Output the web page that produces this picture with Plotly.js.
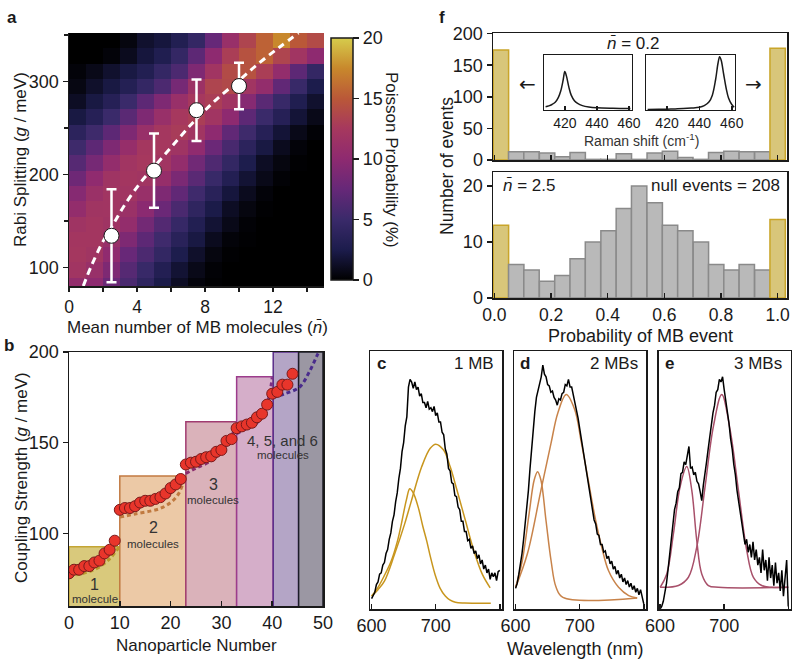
<!DOCTYPE html>
<html>
<head>
<meta charset="utf-8">
<script src="https://cdn.plot.ly/plotly-3.0.1.min.js"></script>
<style>
  html, body { margin: 0; padding: 0; background: #fff; }
  #plot { width: 800px; height: 666px; }
</style>
</head>
<body>
<div id="plot"></div>
<script>
// ---------- panel a : Poisson probability map ----------
var nbarBins = [0.5, 1.5, 2.5, 3.5, 4.5, 5.5, 6.5, 7.5, 8.5, 9.5, 10.5, 11.5, 12.5, 13.5, 14.5];
// row centres, top row first
var rabiBins = [343.8, 327.4, 311.0, 294.5, 278.1, 261.7, 245.2, 228.8, 212.4, 195.9, 179.5, 163.1, 146.6, 130.2, 113.8, 97.4, 80.9];
var poisson = [
  [0, 0, 0, 0.5, 1.5, 2, 3, 4.5, 7.5, 11, 13.5, 15.5, 17.5, 15, 14],
  [0, 0, 0.3, 1, 2, 2.8, 4.5, 7, 10, 13, 14.5, 15.5, 13.5, 12, 10],
  [0.3, 0.8, 1.5, 2.2, 3, 4.5, 6, 9, 12, 14, 14.5, 13, 10.5, 7, 4.5],
  [0.6, 1.4, 2.2, 3.2, 4.5, 6, 8.5, 11.5, 13.5, 13.8, 12, 10.5, 7.2, 4.8, 2.5],
  [1.2, 2.2, 3.3, 5, 7, 9, 11, 12.5, 13, 12, 9.5, 6.8, 4.8, 2.8, 1.5],
  [2.2, 3.3, 5, 6.8, 9, 11, 12.5, 13, 12, 10, 7, 5, 3.3, 1.8, 0.8],
  [3.8, 5.2, 7, 9, 11, 12.3, 12.8, 12, 10, 7.2, 5.2, 3.3, 1.8, 0.8, 0.2],
  [5.2, 7, 9, 10.8, 12.3, 12.5, 11.8, 10.2, 7.8, 5.8, 3.8, 2.2, 1, 0.3, 0],
  [6.6, 8.5, 10.5, 12, 12.5, 12, 10.5, 8.2, 6.2, 4.4, 2.6, 1.2, 0.5, 0.1, 0],
  [8, 10.2, 11.8, 12.2, 12, 10.8, 8.8, 6.8, 4.8, 3.1, 1.7, 0.8, 0.2, 0, 0],
  [9.5, 11.2, 12, 12, 11, 9, 7.2, 5.3, 3.6, 2, 1, 0.3, 0, 0, 0],
  [10.5, 11.9, 12, 11.2, 9.8, 7.8, 5.9, 4.1, 2.4, 1.2, 0.5, 0.1, 0, 0, 0],
  [11.8, 12.2, 11.8, 10.5, 8.3, 6.4, 4.7, 3, 1.7, 0.8, 0.2, 0, 0, 0, 0],
  [12.2, 12.2, 11, 9, 7, 5.3, 3.6, 2.2, 1, 0.3, 0.1, 0, 0, 0, 0],
  [12.3, 11.9, 10.2, 7.6, 6, 4.4, 2.6, 1.4, 0.5, 0.1, 0, 0, 0, 0, 0],
  [12, 11, 9, 6.6, 4.8, 3.1, 1.7, 0.8, 0.2, 0, 0, 0, 0, 0, 0],
  [10.5, 10, 7.8, 5.9, 4.1, 2.4, 1.2, 0.4, 0.1, 0, 0, 0, 0, 0, 0]
];
var nbarMeasured = [2.5, 5, 7.5, 10];
var rabiMeasured = [134, 204, 269, 295];
var rabiErr = [50, 40, 33, 25];
var fitN = [0.84, 1.3, 2.0, 2.5, 3.2, 4.2, 5.0, 6.1, 7.2, 7.9, 8.7, 10.0, 11.2, 12.4, 13.5];
var fitG = [80, 101, 128, 143, 165, 191, 208, 231, 254, 267, 281, 301, 320, 337, 352];

// ---------- panel f : histograms + Raman insets ----------
var probBins = [0.023, 0.077, 0.131, 0.186, 0.240, 0.294, 0.348, 0.403, 0.457, 0.511, 0.566, 0.620, 0.674, 0.729, 0.783, 0.837, 0.891, 0.946, 1.000];
var countsLow = [174, 13, 13, 11, 5, 12, 1, 1, 10, 1, 11, 14, 4, 1, 12, 14, 13, 13, 177];
var countsHigh = [13, 6, 5, 3, 4, 7, 10, 12, 16, 20, 17, 13, 12, 10, 6, 5, 6, 5, 14];
var ramanLeftX = [408, 410, 412, 414, 416, 417.5, 419, 420, 421, 422.5, 424, 426, 428, 431, 435, 440, 450, 461];
var ramanLeftY = [0.06, 0.075, 0.1, 0.14, 0.23, 0.35, 0.55, 0.7, 0.62, 0.42, 0.27, 0.17, 0.12, 0.08, 0.055, 0.04, 0.03, 0.025];
var ramanRightX = [408, 415, 420, 425, 430, 435, 440, 443, 446, 448, 450, 451.5, 452.5, 453.5, 455, 456.5, 458, 460, 461.5];
var ramanRightY = [0.01, 0.012, 0.015, 0.02, 0.025, 0.035, 0.05, 0.08, 0.15, 0.27, 0.55, 0.85, 0.97, 0.9, 0.65, 0.4, 0.22, 0.1, 0.05];

// ---------- panel b : coupling strength ----------
var particleNo = [];
for (var i = 0; i < 45; i++) particleNo.push(i);
var coupling = [78, 80, 80, 82, 82, 84, 85, 89, 91, 96,
  113, 114, 114, 115, 117, 118, 118, 119, 120, 122, 125, 127, 130,
  138, 139, 139.5, 141, 142, 142.5, 145, 146, 151, 152,
  158, 159, 160, 161, 164, 166, 171,
  177, 178, 182, 182, 188];
var regionStart = [0, 10, 23, 33, 40.2, 45.2];
var regionEnd = [10, 23, 33, 40.2, 45.2, 50];
var regionTop = [92.6, 131.6, 161.5, 186.4, 200, 200];
var regionFill = ["#d9c97c", "#ecc9a6", "#dab2ba", "#d5aec9", "#b4a5c6", "#9b97a3"];
var regionEdge = ["#c4a534", "#c27a42", "#a03c70", "#9c3c8c", "#5a2e8a", "#1c1c28"];
var fit1X = [0, 2, 4, 6, 8, 10], fit1Y = [76.5, 77.5, 79, 81.5, 86, 93];
var fit2X = [10, 13, 16, 18, 20, 21.5, 22.5, 23], fit2Y = [109, 110.7, 112.3, 113.8, 117, 121.5, 128, 132];
var fit3X = [23, 25, 28, 30, 31.5, 33], fit3Y = [133, 136, 140, 145, 151, 160];
var fit4X = [33, 35, 37, 38.5, 39.5, 40], fit4Y = [155, 158, 161, 167, 177, 186];
var fit5X = [40.2, 42.5, 45.4, 47.3, 49, 49.6], fit5Y = [175, 177, 180.7, 189, 199, 202];

// ---------- panels c, d, e : scattering spectra ----------
var wavelength = [600, 602.5, 605, 607.5, 610, 612.5, 615, 617.5, 620, 622.5, 625, 627.5, 630, 632.5, 635, 637.5,
  640, 642.5, 645, 647.5, 650, 652.5, 655, 657.5, 660, 662.5, 665, 667.5, 670, 672.5, 675, 677.5,
  680, 682.5, 685, 687.5, 690, 692.5, 695, 697.5, 700, 702.5, 705, 707.5, 710, 712.5, 715, 717.5,
  720, 722.5, 725, 727.5, 730, 732.5, 735, 737.5, 740, 742.5, 745, 747.5, 750, 752.5, 755, 757.5,
  760, 762.5, 765, 767.5, 770, 772.5, 775, 777.5, 780, 782.5, 785, 787.5, 790, 792.5, 795, 797.5, 800];
var specC = [0.04, 0.055, 0.065, 0.095, 0.105, 0.135, 0.14, 0.17, 0.18, 0.215, 0.23, 0.27, 0.295, 0.34, 0.365, 0.415,
  0.45, 0.505, 0.545, 0.61, 0.645, 0.71, 0.745, 0.86, 0.89, 0.88, 0.855, 0.88, 0.85, 0.86, 0.825, 0.835,
  0.8, 0.8, 0.78, 0.805, 0.775, 0.78, 0.765, 0.785, 0.75, 0.76, 0.725, 0.725, 0.685, 0.675, 0.62, 0.6,
  0.545, 0.535, 0.49, 0.485, 0.44, 0.435, 0.395, 0.385, 0.34, 0.34, 0.3, 0.3, 0.265, 0.27, 0.235, 0.245,
  0.215, 0.225, 0.195, 0.21, 0.175, 0.19, 0.155, 0.17, 0.14, 0.155, 0.115, 0.14, 0.125, 0.14, 0.11, 0.145, 0.15];
var specD = [0.08, 0.1, 0.135, 0.17, 0.215, 0.27, 0.325, 0.39, 0.46, 0.545, 0.625, 0.71, 0.765, 0.82, 0.845, 0.88,
  0.9, 0.945, 0.91, 0.9, 0.87, 0.865, 0.84, 0.845, 0.82, 0.81, 0.79, 0.815, 0.81, 0.835, 0.84, 0.87,
  0.865, 0.89, 0.86, 0.86, 0.83, 0.81, 0.77, 0.74, 0.7, 0.66, 0.62, 0.575, 0.54, 0.495, 0.46, 0.415,
  0.39, 0.345, 0.33, 0.29, 0.285, 0.25, 0.25, 0.22, 0.225, 0.195, 0.205, 0.175, 0.185, 0.155, 0.165, 0.135,
  0.15, 0.12, 0.135, 0.105, 0.12, 0.095, 0.11, 0.085, 0.1, 0.075, 0.09, 0.065, 0.08, 0.055, 0.075, 0.045, 0.02];
var specE = [0.0, 0.01, 0.03, 0.06, 0.1, 0.155, 0.21, 0.28, 0.32, 0.385, 0.41, 0.455, 0.47, 0.525, 0.53, 0.57,
  0.56, 0.6, 0.63, 0.545, 0.55, 0.52, 0.53, 0.495, 0.485, 0.455, 0.42, 0.48, 0.52, 0.57, 0.62, 0.67,
  0.71, 0.76, 0.79, 0.84, 0.85, 0.89, 0.88, 0.9, 0.85, 0.81, 0.76, 0.72, 0.66, 0.62, 0.56, 0.52,
  0.46, 0.42, 0.37, 0.33, 0.3, 0.25, 0.27, 0.22, 0.25, 0.2, 0.26, 0.19, 0.23, 0.17, 0.2, 0.14,
  0.23, 0.15, 0.19, 0.11, 0.2, 0.12, 0.17, 0.09, 0.18, 0.1, 0.14, 0.07, 0.15, 0.05, 0.12, 0.19, 0.01];

var fitC1X = [600, 609.5, 620, 630.6, 640, 646.4, 654.3, 659.6, 665, 672.7, 680, 686, 692, 699, 707, 715, 722, 730.7, 745, 786];
var fitC1Y = [0.05, 0.082, 0.13, 0.186, 0.26, 0.329, 0.423, 0.466, 0.45, 0.395, 0.32, 0.264, 0.2, 0.134, 0.08, 0.05, 0.035, 0.026, 0.023, 0.022];
var fitC2X = [600, 610, 620, 635.8, 651.6, 662.2, 678, 691.2, 700, 712.3, 722.8, 733.3, 746.5, 759.7, 772.9, 785];
var fitC2Y = [0.05, 0.075, 0.108, 0.212, 0.33, 0.42, 0.55, 0.622, 0.639, 0.616, 0.55, 0.46, 0.342, 0.225, 0.134, 0.082];
var fitD1X = [600, 610.5, 621.1, 629, 634.3, 639.5, 647.4, 655.3, 663.2, 673.8, 789.7];
var fitD1Y = [0.084, 0.188, 0.37, 0.5, 0.532, 0.5, 0.344, 0.188, 0.084, 0.045, 0.043];
var fitD2X = [600, 618.4, 639.5, 655.3, 665.9, 679, 692.2, 702.8, 713.3, 723.8, 734.4, 744.9, 760.7, 776.5, 789.7];
var fitD2Y = [0.084, 0.214, 0.46, 0.643, 0.76, 0.831, 0.773, 0.643, 0.5, 0.357, 0.24, 0.149, 0.084, 0.052, 0.043];
var fitE1X = [600, 610.4, 620.8, 631.2, 641.6, 649.4, 657.2, 665, 675.4, 691, 800];
var fitE1Y = [0.084, 0.136, 0.292, 0.474, 0.552, 0.461, 0.266, 0.136, 0.091, 0.084, 0.084];
var fitE2X = [600, 628.6, 644.2, 657.2, 670.2, 683.2, 696.2, 709.2, 722.2, 735.2, 745.6, 758.6, 774.2, 800];
var fitE2Y = [0.084, 0.091, 0.123, 0.24, 0.474, 0.708, 0.831, 0.695, 0.461, 0.227, 0.123, 0.091, 0.084, 0.084];

// ---------- helpers ----------
var FONT = "Liberation Sans, Arial, sans-serif";
var INK = "#1a1a1a";
function px(x) { return x / 800; }
function py(y) { return 1 - y / 666; }

var fireScale = [
  [0, "#000000"], [0.125, "#1c1c4c"], [0.25, "#3a2a6a"], [0.375, "#662878"],
  [0.5, "#8e2a70"], [0.625, "#a6385e"], [0.75, "#ba5838"], [0.875, "#c8882c"], [1, "#d6cc4c"]
];

function axisBase(extra) {
  var a = {
    showgrid: false, zeroline: false, showline: true, linecolor: INK, linewidth: 1.5,
    ticks: "outside", ticklen: 5, tickwidth: 1.5, tickcolor: INK,
    tickfont: {family: FONT, size: 18, color: INK}
  };
  for (var k in extra) a[k] = extra[k];
  return a;
}

var traces = [];

// panel a
traces.push({
  type: "heatmap", x: nbarBins, y: rabiBins.slice().reverse(), z: poisson.slice().reverse(),
  xaxis: "x", yaxis: "y", zmin: 0, zmax: 20, zsmooth: false, colorscale: fireScale,
  hoverinfo: "skip",
  colorbar: {
    x: px(331), xanchor: "left", xpad: 0, y: py(159), yanchor: "middle", ypad: 0,
    len: 242 / 666, lenmode: "fraction", thickness: 22, thicknessmode: "pixels",
    outlinecolor: INK, outlinewidth: 1.5, ticks: "outside", ticklen: 6, tickwidth: 1.5,
    tickcolor: INK, tickvals: [0, 5, 10, 15, 20],
    tickfont: {family: FONT, size: 18, color: INK}
  }
});
traces.push({
  type: "scatter", mode: "lines", x: fitN, y: fitG, xaxis: "x", yaxis: "y",
  line: {color: "#ffffff", width: 3, dash: "7px,5px", shape: "spline"}, hoverinfo: "skip"
});
traces.push({
  type: "scatter", mode: "markers", x: nbarMeasured, y: rabiMeasured, xaxis: "x", yaxis: "y",
  error_y: {type: "data", array: rabiErr, color: "#ffffff", thickness: 2.5, width: 5},
  marker: {size: 15, color: "#ffffff", line: {color: INK, width: 1}}, hoverinfo: "skip"
});

// panel f histograms
var barFill = probBins.map(function (v, i) { return (i === 0 || i === probBins.length - 1) ? "#d8c67a" : "#b9b9b9"; });
var barEdge = probBins.map(function (v, i) { return (i === 0 || i === probBins.length - 1) ? "#c9a52a" : "#8a8a8a"; });
traces.push({
  type: "bar", x: probBins, y: countsLow, width: 0.0543, xaxis: "x2", yaxis: "y2",
  marker: {color: barFill, line: {color: barEdge, width: 1.5}}, hoverinfo: "skip"
});
traces.push({
  type: "bar", x: probBins, y: countsHigh, width: 0.0543, xaxis: "x3", yaxis: "y3",
  marker: {color: barFill, line: {color: barEdge, width: 1.5}}, hoverinfo: "skip"
});
traces.push({
  type: "scatter", mode: "lines", x: ramanLeftX, y: ramanLeftY, xaxis: "x4", yaxis: "y4",
  line: {color: INK, width: 1.5, shape: "spline"}, hoverinfo: "skip"
});
traces.push({
  type: "scatter", mode: "lines", x: ramanRightX, y: ramanRightY, xaxis: "x5", yaxis: "y5",
  line: {color: INK, width: 1.5, shape: "spline"}, hoverinfo: "skip"
});

// panel b
traces.push({
  type: "bar", xaxis: "x6", yaxis: "y6",
  x: regionStart.map(function (s, i) { return (s + regionEnd[i]) / 2; }),
  width: regionStart.map(function (s, i) { return regionEnd[i] - s; }),
  y: regionTop,
  marker: {color: regionFill, line: {color: regionEdge, width: 1.5}}, hoverinfo: "skip"
});
var fitColors = ["#b89a2e", "#c07a40", "#8a2c6c", "#7c2e84", "#4a2c8c"];
[[fit1X, fit1Y], [fit2X, fit2Y], [fit3X, fit3Y], [fit4X, fit4Y], [fit5X, fit5Y]].forEach(function (f, i) {
  traces.push({
    type: "scatter", mode: "lines", x: f[0], y: f[1], xaxis: "x6", yaxis: "y6",
    line: {color: fitColors[i], width: 3, dash: "4px,3px", shape: "spline"}, hoverinfo: "skip"
  });
});
traces.push({
  type: "scatter", mode: "markers", x: particleNo, y: coupling, xaxis: "x6", yaxis: "y6",
  marker: {size: 11, color: "#e8352b", line: {color: "#7a1a1a", width: 1}}, hoverinfo: "skip"
});

// panels c, d, e
function spectrum(xa, ya, spec, fits, col) {
  fits.forEach(function (f) {
    traces.push({
      type: "scatter", mode: "lines", x: f[0], y: f[1], xaxis: xa, yaxis: ya,
      line: {color: col, width: 1.5, shape: "spline"}, hoverinfo: "skip"
    });
  });
  traces.push({
    type: "scatter", mode: "lines", x: wavelength, y: spec, xaxis: xa, yaxis: ya,
    line: {color: "#000000", width: 1.5}, hoverinfo: "skip"
  });
}
spectrum("x7", "y7", specC, [[fitC1X, fitC1Y], [fitC2X, fitC2Y]], "#c8961e");
spectrum("x8", "y8", specD, [[fitD1X, fitD1Y], [fitD2X, fitD2Y]], "#c8834a");
spectrum("x9", "y9", specE, [[fitE1X, fitE1Y], [fitE2X, fitE2Y]], "#a8506a");

// ---------- layout ----------
var specX = {
  range: [597.5, 803.5], tickvals: [600, 700],
  minor: {tickvals: [800], ticks: "inside", ticklen: 5, tickwidth: 1.5, tickcolor: INK},
  ticks: "inside", mirror: true
};
var specY = {range: [0, 1], showticklabels: false, ticks: "", mirror: true};

var layout = {
  width: 800, height: 666,
  margin: {l: 0, r: 0, t: 0, b: 0},
  paper_bgcolor: "#ffffff", plot_bgcolor: "#ffffff",
  showlegend: false, bargap: 0,
  font: {family: FONT, size: 17, color: INK},

  xaxis: axisBase({domain: [px(69), px(324)], anchor: "y", range: [0, 15], ticklen: 4,
    tickfont: {family: FONT, size: 17.5, color: INK},
    tickvals: [0, 4, 8, 12], minor: {tickvals: [2, 6, 10, 14], ticks: "outside", ticklen: 4, tickcolor: INK, tickwidth: 1.5}}),
  yaxis: axisBase({domain: [py(286), py(33)], anchor: "x", range: [80, 352],
    tickvals: [100, 200, 300], minor: {tickvals: [150, 250, 350], ticks: "outside", ticklen: 4, tickcolor: INK, tickwidth: 1.5}}),

  xaxis2: axisBase({domain: [px(493), px(787)], anchor: "y2", range: [-0.005, 1.033],
    tickvals: [0, 0.2, 0.4, 0.6, 0.8, 1.0], showticklabels: false, ticks: "inside", mirror: true}),
  yaxis2: axisBase({domain: [py(160), py(33)], anchor: "x2", range: [0, 201],
    tickvals: [0, 50, 100, 150, 200], mirror: true}),

  xaxis3: axisBase({domain: [px(493), px(787)], anchor: "y3", range: [-0.005, 1.033],
    tickvals: [0, 0.2, 0.4, 0.6, 0.8, 1.0], ticktext: ["0.0", "0.2", "0.4", "0.6", "0.8", "1.0"],
    tickfont: {family: FONT, size: 17.5, color: INK}, ticks: "inside", mirror: true}),
  yaxis3: axisBase({domain: [py(298), py(172)], anchor: "x3", range: [0, 22.5],
    tickvals: [0, 10, 20], mirror: true}),

  xaxis4: axisBase({domain: [px(544), px(632)], anchor: "y4", range: [407, 462],
    tickvals: [420, 440, 460], ticks: "inside", ticklen: 4, linewidth: 1.3, mirror: true,
    tickfont: {family: FONT, size: 14, color: INK}}),
  yaxis4: axisBase({domain: [py(110), py(55)], anchor: "x4", range: [0, 1],
    showticklabels: false, ticks: "", linewidth: 1.3, mirror: true}),
  xaxis5: axisBase({domain: [px(646), px(735)], anchor: "y5", range: [407, 462],
    tickvals: [420, 440, 460], ticks: "inside", ticklen: 4, linewidth: 1.3, mirror: true,
    tickfont: {family: FONT, size: 14, color: INK}}),
  yaxis5: axisBase({domain: [py(110), py(55)], anchor: "x5", range: [0, 1],
    showticklabels: false, ticks: "", linewidth: 1.3, mirror: true}),

  xaxis6: axisBase({domain: [px(69), px(323)], anchor: "y6", range: [0, 50],
    tickvals: [0, 10, 20, 30, 40, 50], ticks: "inside", mirror: true}),
  yaxis6: axisBase({domain: [py(606), py(352)], anchor: "x6", range: [60, 200],
    tickvals: [100, 150, 200], mirror: true}),

  xaxis7: axisBase(Object.assign({domain: [px(370), px(502)], anchor: "y7"}, specX)),
  yaxis7: axisBase(Object.assign({domain: [py(609), py(351)], anchor: "x7"}, specY)),
  xaxis8: axisBase(Object.assign({domain: [px(514), px(646)], anchor: "y8"}, specX)),
  yaxis8: axisBase(Object.assign({domain: [py(609), py(351)], anchor: "x8"}, specY)),
  xaxis9: axisBase(Object.assign({domain: [px(658.5), px(790.5)], anchor: "y9"}, specX)),
  yaxis9: axisBase(Object.assign({domain: [py(609), py(351)], anchor: "x9"}, specY)),

  annotations: []
};

function note(text, x, y, opts) {
  var a = {text: text, x: px(x), y: py(y), xref: "paper", yref: "paper",
    showarrow: false, xanchor: "center", yanchor: "middle",
    font: {family: FONT, size: 17, color: INK}};
  for (var k in (opts || {})) a[k] = opts[k];
  layout.annotations.push(a);
}
function dataNote(text, ax, x, y, size) {
  layout.annotations.push({text: text, x: x, y: y, xref: "x" + ax, yref: "y" + ax,
    showarrow: false, xanchor: "center", yanchor: "middle",
    font: {family: FONT, size: size, color: "#333333"}});
}

// panel letters
note("<b>a</b>", 12, 17, {font: {family: FONT, size: 17, color: INK}});
note("<b>b</b>", 9, 345, {font: {family: FONT, size: 17, color: INK}});
note("<b>f</b>", 442, 17, {font: {family: FONT, size: 17, color: INK}});

// panel a titles
note("Rabi Splitting (<i>g</i> / meV)", 20, 160, {textangle: -90});
note("Mean number of MB molecules (<i>n̄</i>)", 197, 327);
note("Poisson Probability (%)", 392, 160, {textangle: 90});

// panel f texts
note("Number of events", 447, 166, {textangle: -90, font: {family: FONT, size: 17.5, color: INK}});
note("Probability of MB event", 640, 336, {font: {family: FONT, size: 18, color: INK}});
note("<i>n̄</i> = 0.2", 633, 43);
note("<i>n̄</i> = 2.5", 501, 185, {xanchor: "left"});
note("null events = 208", 782, 185, {xanchor: "right"});
note("←", 527, 84, {font: {family: "DejaVu Sans", size: 20, color: INK}});
note("→", 753, 84, {font: {family: "DejaVu Sans", size: 20, color: INK}});
note("Raman shift (cm<sup>-1</sup>)", 641, 140, {font: {family: FONT, size: 14, color: "#333333"}});

// panel b texts
note("Coupling Strength (<i>g</i> / meV)", 21, 478, {textangle: -90});
note("Nanoparticle Number", 196, 645);
dataNote("1", 6, 5.1, 72, 16);
dataNote("molecule", 6, 5.1, 64, 11.5);
dataNote("2", 6, 16.6, 103, 16);
dataNote("molecules", 6, 16.6, 94, 11.5);
dataNote("3", 6, 28.4, 127, 16);
dataNote("molecules", 6, 28.4, 118.5, 11.5);
dataNote("4, 5, and 6", 6, 42.1, 151, 15);
dataNote("molecules", 6, 42.1, 143, 11.5);

// panels c, d, e texts
note("<b>c</b>", 381, 363);
note("1 MB", 496, 363, {xanchor: "right"});
note("<b>d</b>", 525, 363);
note("2 MBs", 640, 363, {xanchor: "right"});
note("<b>e</b>", 669, 363);
note("3 MBs", 784, 363, {xanchor: "right"});
note("Wavelength (nm)", 575, 649, {font: {family: FONT, size: 18, color: INK}});

Plotly.newPlot("plot", traces, layout, {displayModeBar: false, staticPlot: true});
</script>
</body>
</html>
